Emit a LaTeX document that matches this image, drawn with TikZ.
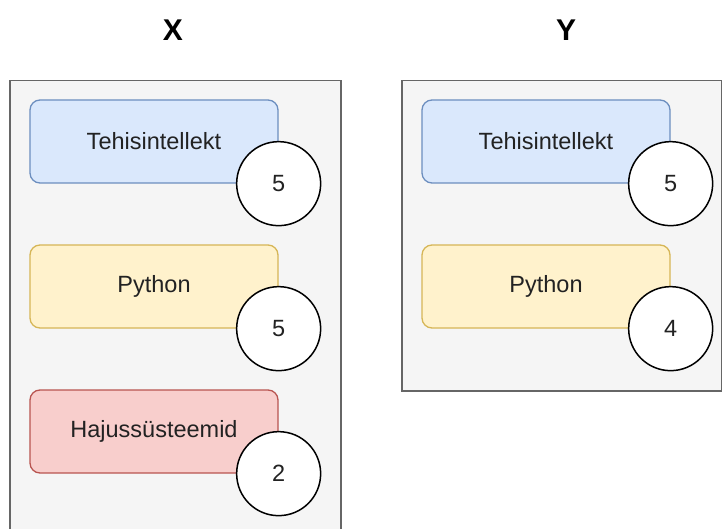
\documentclass[tikz,border=0pt]{standalone}
\usepackage{fontspec}
\setmainfont{Liberation Sans}
\usepackage{tikz}
\usetikzlibrary{positioning}

\definecolor{panelfill}{HTML}{F5F5F5}
\definecolor{panelline}{HTML}{666666}
\definecolor{bluefill}{HTML}{DAE8FC}
\definecolor{blueline}{HTML}{6C8EBF}
\definecolor{yellowfill}{HTML}{FFF2CC}
\definecolor{yellowline}{HTML}{D6B656}
\definecolor{redfill}{HTML}{F8CECC}
\definecolor{redline}{HTML}{B85450}
\definecolor{textgray}{HTML}{222222}

\begin{document}
\begin{tikzpicture}[x=1pt, y=1pt, node distance=145pt]
\tikzstyle{panel}=[draw=panelline, fill=panelfill, line width=1.5pt, anchor=north west, inner sep=0pt]
\tikzstyle{title}=[font=\fontsize{30}{36}\selectfont\bfseries]
\tikzstyle{course}=[rounded corners=10pt, line width=1.3pt, minimum width=248pt, minimum height=83pt, text=textgray, font=\fontsize{23.5}{28}\selectfont]
\tikzstyle{blue}=[course, draw=blueline, fill=bluefill]
\tikzstyle{yellow}=[course, draw=yellowline, fill=yellowfill]
\tikzstyle{red}=[course, draw=redline, fill=redfill]
\tikzstyle{score}=[circle, draw=black, fill=white, line width=1.5pt, minimum size=84pt, inner sep=0pt, text=textgray, font=\fontsize{23.5}{28}\selectfont]
\useasboundingbox (0,0) rectangle (722,-529);
\clip (0,0) rectangle (722,-529);

% titles
\node[title] (tx) at (173,-30) {X};
\node[title] (ty) at (566,-30) {Y};

% panels
\node[panel, minimum width=331pt, minimum height=470pt] (px) at (9,-80) {};
\node[panel, minimum width=320pt, minimum height=310pt] (py) at (401,-80) {};

% courses of X
\node[blue]   (x1) at (154,-141.5) {Tehisintellekt};
\node[yellow] (x2) [below of=x1] {Python};
\node[red]    (x3) [below of=x2] {Hajussüsteemid};

% courses of Y
\node[blue]   (y1) at (546,-141.5) {Tehisintellekt};
\node[yellow] (y2) [below of=y1] {Python};

% grades
\node[score] (gx1) at (x1.south east) {5};
\node[score] (gx2) at (x2.south east) {5};
\node[score] (gx3) at (x3.south east) {2};
\node[score] (gy1) at (y1.south east) {5};
\node[score] (gy2) at (y2.south east) {4};
\end{tikzpicture}
\end{document}
